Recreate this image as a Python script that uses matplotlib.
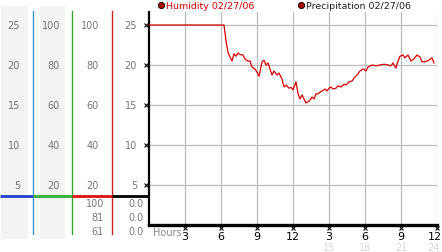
import matplotlib
matplotlib.use('Agg')
import matplotlib.pyplot as plt
import numpy as np

# humidity trace (hour of day, value)
hours = [0, 6.25, 6.42, 6.58, 6.75, 6.92, 7.08, 7.25, 7.42, 7.58, 7.83, 8.0, 8.25, 8.42,
         8.58, 8.83, 9.0, 9.17, 9.42, 9.58, 9.75, 9.92, 10.08, 10.25, 10.42, 10.67, 10.83,
         11.08, 11.25, 11.42, 11.67, 11.83, 12.0, 12.25, 12.42, 12.58, 12.75, 12.92, 13.08,
         13.25, 13.42, 13.58, 13.75, 13.92, 14.08, 14.25, 14.42, 14.67, 14.83, 15.0, 15.17,
         15.33, 15.58, 15.75, 16.0, 16.25, 16.42, 16.67, 16.92, 17.17, 17.42, 17.58, 17.83,
         18.08, 18.25, 18.58, 18.92, 19.25, 19.58, 19.92, 20.17, 20.33, 20.58, 20.75, 20.92,
         21.17, 21.33, 21.58, 21.83, 22.08, 22.33, 22.58, 22.75, 23.0, 23.17, 23.33, 23.58, 23.75]
humidity = [25, 25, 23.0, 21.6, 21.0, 20.5, 21.4, 21.1, 21.5, 21.3, 21.25, 20.75, 20.5, 20.5,
            19.75, 19.5, 19.1, 18.6, 20.4, 20.6, 20.0, 20.25, 19.5, 18.75, 19.25, 18.75, 19.0,
            18.25, 17.25, 17.5, 17.1, 17.2, 16.9, 17.9, 16.4, 15.75, 16.25, 15.75, 15.25,
            15.4, 15.6, 16.0, 15.75, 16.4, 16.4, 16.6, 16.75, 17.0, 16.75, 17.1, 17.25,
            17.0, 17.1, 17.4, 17.25, 17.6, 17.5, 17.9, 18.0, 18.5, 18.9, 19.25, 19.5,
            19.25, 19.75, 20.0, 19.9, 20.0, 20.1, 20.0, 19.9, 20.25, 19.6, 20.5, 21.1,
            21.25, 20.9, 21.25, 20.5, 20.75, 21.25, 21.0, 20.4, 20.4, 20.5, 20.6, 20.9, 20.25]

yticks = [5, 10, 15, 20, 25]
xticks = [3, 6, 9, 12, 15, 18, 21, 24]
xlabels = ['3', '6', '9', '12', '3', '6', '9', '12']
xlabels2 = ['15', '18', '21', '24']

# scales of the other channels shown in the left panel
col1 = ['25', '20', '15', '10', '5']
col2 = ['100', '80', '60', '40', '20']
col3 = ['100', '80', '60', '40', '20']
col4 = ['25', '20', '15', '10', '5']
col3_low = ['100', '81', '61']
col4_low = ['0.0', '0.0', '0.0']

W, H = 442, 253
fig = plt.figure(figsize=(W / 100, H / 100), dpi=100)

# pixel-space layer for the left panel and legend
bg = fig.add_axes([0, 0, 1, 1])
bg.set_xlim(0, W)
bg.set_ylim(H, 0)
bg.axis('off')

x0, x1 = 149, 437
y0, ytop = 226, 13
ymax = (y0 - ytop) / 8.0

ax = fig.add_axes([x0 / W, (H - y0) / H, (x1 - x0) / W, (y0 - ytop) / H])
ax.set_xlim(0, 24)
ax.set_ylim(0, ymax)
ax.patch.set_alpha(0)

def ypix(v):
    return y0 - v * 8.0

gray_txt = '#777777'

# gray bands and coloured dividers
bg.add_patch(plt.Rectangle((1, 7), 27, 233, color='#f3f3f3', lw=0))
bg.add_patch(plt.Rectangle((40, 7), 25, 233, color='#f3f3f3', lw=0))
bg.plot([33, 33], [12, 235], color='#3399cc', lw=1)
bg.plot([72, 72], [12, 235], color='#33aa33', lw=1)
bg.plot([112, 112], [12, 235], color='#cc2222', lw=1)

sep = 197
bg.plot([0, 33], [sep, sep], color='#1f3fd0', lw=2, solid_capstyle='butt')
bg.plot([33, 72], [sep, sep], color='#33b033', lw=2, solid_capstyle='butt')
bg.plot([72, 112], [sep, sep], color='#dd1111', lw=2, solid_capstyle='butt')
bg.plot([112, 149], [sep, sep], color='black', lw=2, solid_capstyle='butt')

for i, v in enumerate(yticks[::-1]):
    yy = ypix(v)
    bg.text(20, yy, col1[i], ha='right', va='center', fontsize=7, color=gray_txt)
    bg.text(60, yy, col2[i], ha='right', va='center', fontsize=7, color=gray_txt)
    bg.text(99, yy, col3[i], ha='right', va='center', fontsize=7, color=gray_txt)
    bg.text(137, yy, col4[i], ha='right', va='center', fontsize=7, color=gray_txt)

for i, (a, b) in enumerate(zip(col3_low, col4_low)):
    yy = 204 + 14 * i
    bg.text(104, yy, a, ha='right', va='center', fontsize=7, color=gray_txt)
    bg.text(144, yy, b, ha='right', va='center', fontsize=7, color=gray_txt)

# legend
bg.plot([161], [6], 'o', ms=4.5, mfc='#aa0000', mec='black', mew=0.6)
bg.text(166, 6, 'Humidity 02/27/06', va='center', ha='left', fontsize=6.8, color='#d40000')
bg.plot([301], [6], 'o', ms=4.5, mfc='#aa0000', mec='black', mew=0.6)
bg.text(306, 6, 'Precipitation 02/27/06', va='center', ha='left', fontsize=6.8, color='#222222')

# main plot
for v in yticks:
    ax.axhline(v, color='#bdbdbd', lw=0.9, zorder=1)
for v in xticks:
    ax.axvline(v, color='#bdbdbd', lw=0.9, zorder=1)

ax.plot(hours, humidity, color='#d40000', lw=0.9, zorder=3)

for s in ['top', 'right']:
    ax.spines[s].set_visible(False)
ax.spines['left'].set_linewidth(1.6)
ax.spines['bottom'].set_linewidth(2.4)
ax.set_xticks([])
ax.set_yticks([])

# small tick markers
ax.plot([-0.25] * len(yticks), yticks, 'x', ms=2.5, mew=0.8, color='black', clip_on=False)
ax.plot(xticks, [-0.35] * len(xticks), 'x', ms=2.5, mew=0.8, color='black', clip_on=False)

for v, lab in zip(xticks, xlabels):
    xp = min(x0 + v * 12, 435)
    bg.text(xp, 237, lab, ha='center', va='center', fontsize=8, color='black')
for v, lab in zip(xticks[4:], xlabels2):
    xp = min(x0 + v * 12, 433)
    bg.text(xp, 248, lab, ha='center', va='center', fontsize=7, color='#d6d6d6')
bg.text(153, 233, 'Hours', ha='left', va='center', fontsize=7, color='#888888')

fig.savefig('out.png', dpi=100)
